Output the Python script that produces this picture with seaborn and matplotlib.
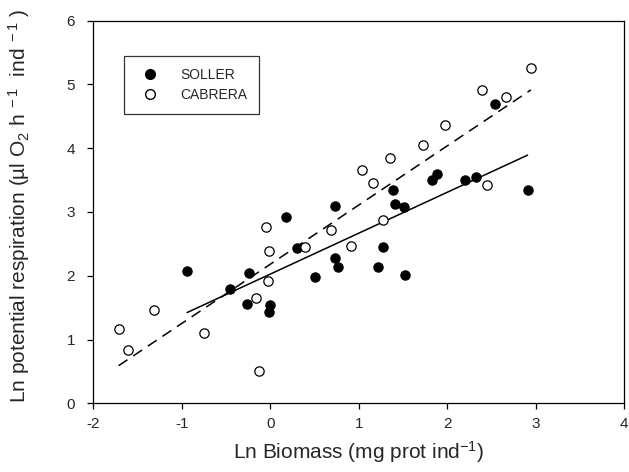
import matplotlib
matplotlib.use("Agg")
import matplotlib.pyplot as plt
import seaborn as sns
import numpy as np
from matplotlib.lines import Line2D

# SOLLER (filled circles)
soller_x = [-0.94, -0.46, -0.245, -0.263, 0.0, -0.011, 0.177, 0.301, 0.508, 0.734,
            0.727, 0.761, 1.386, 1.412, 1.507, 1.27, 1.212, 1.525, 1.827, 1.883,
            2.203, 2.328, 2.535, 2.907]
soller_y = [2.07, 1.80, 2.04, 1.55, 1.54, 1.43, 2.92, 2.44, 1.975, 3.10,
            2.28, 2.13, 3.34, 3.12, 3.08, 2.45, 2.13, 2.01, 3.50, 3.59,
            3.495, 3.55, 4.69, 3.34]
# CABRERA (open circles)
cabrera_x = [-1.714, -1.608, -1.311, -0.753, -0.158, -0.132, -0.026, -0.02, -0.048, 0.395,
             0.686, 0.911, 1.036, 1.156, 1.356, 1.27, 1.725, 1.977, 2.392, 2.667,
             2.448, 2.945]
cabrera_y = [1.165, 0.83, 1.47, 1.10, 1.65, 0.51, 1.91, 2.39, 2.76, 2.45,
             2.72, 2.47, 3.66, 3.46, 3.85, 2.88, 4.05, 4.36, 4.91, 4.80,
             3.43, 5.26]

x_ticks = [-2, -1, 0, 1, 2, 3, 4]
y_ticks = [0, 1, 2, 3, 4, 5, 6]
series_names = ["SOLLER", "CABRERA"]

sns.set_style("ticks")
plt.rcParams['font.family'] = ['Liberation Sans', 'DejaVu Sans']
plt.rcParams['mathtext.fontset'] = 'custom'
plt.rcParams['mathtext.rm'] = 'Liberation Sans'
plt.rcParams['mathtext.it'] = 'Liberation Sans:italic'

fig = plt.figure(figsize=(6.29, 4.72), dpi=100)
ax = fig.add_axes([0.1483, 0.1456, 0.8442, 0.8105])

sns.regplot(x=np.array(soller_x), y=np.array(soller_y), ax=ax, ci=None, truncate=True,
            scatter_kws=dict(s=45, color='black', edgecolors='black', linewidths=0.8,
                             alpha=1, zorder=3),
            line_kws=dict(color='black', lw=1.1, zorder=2))
sns.regplot(x=np.array(cabrera_x), y=np.array(cabrera_y), ax=ax, ci=None, truncate=True,
            scatter_kws=dict(s=45, facecolors='white', edgecolors='black', linewidths=0.9,
                             alpha=1, zorder=3),
            line_kws=dict(color='black', lw=1.1, dashes=(7, 4.5), zorder=2))

ax.set_xlim(-2, 4)
ax.set_ylim(0, 6)
ax.set_xticks(x_ticks)
ax.set_yticks(y_ticks)
ax.set_xticklabels([str(t) for t in x_ticks])
ax.set_yticklabels([str(t) for t in y_ticks])
ax.tick_params(labelsize=11, length=4, width=0.9, direction='out', color='black')
ax.tick_params(axis='y', pad=9)
ax.tick_params(axis='x', pad=6)
for sp in ax.spines.values():
    sp.set_color('black')
    sp.set_linewidth(0.9)

ax.set_xlabel("Ln Biomass (mg prot ind$^{-1}$)", fontsize=15, labelpad=6)
ax.set_ylabel("Ln potential respiration (µl O$_2$ h$^{\\ -1}$  ind$^{\\ -1}$ )", fontsize=15)
ax.yaxis.set_label_coords(-0.115, 0.515)

handles = [
    Line2D([], [], marker='o', linestyle='none', markersize=7, markerfacecolor='black',
           markeredgecolor='black'),
    Line2D([], [], marker='o', linestyle='none', markersize=7, markerfacecolor='white',
           markeredgecolor='black'),
]
leg = fig.legend(handles, series_names, loc='upper left', bbox_to_anchor=(0.197, 0.881),
                 bbox_transform=fig.transFigure, frameon=True, fancybox=False,
                 edgecolor='black', fontsize=10, borderpad=0.85, handletextpad=1.2,
                 labelspacing=0.45, borderaxespad=0, handlelength=2.0)
leg.get_frame().set_linewidth(0.9)

fig.savefig("out.png", dpi=100)
